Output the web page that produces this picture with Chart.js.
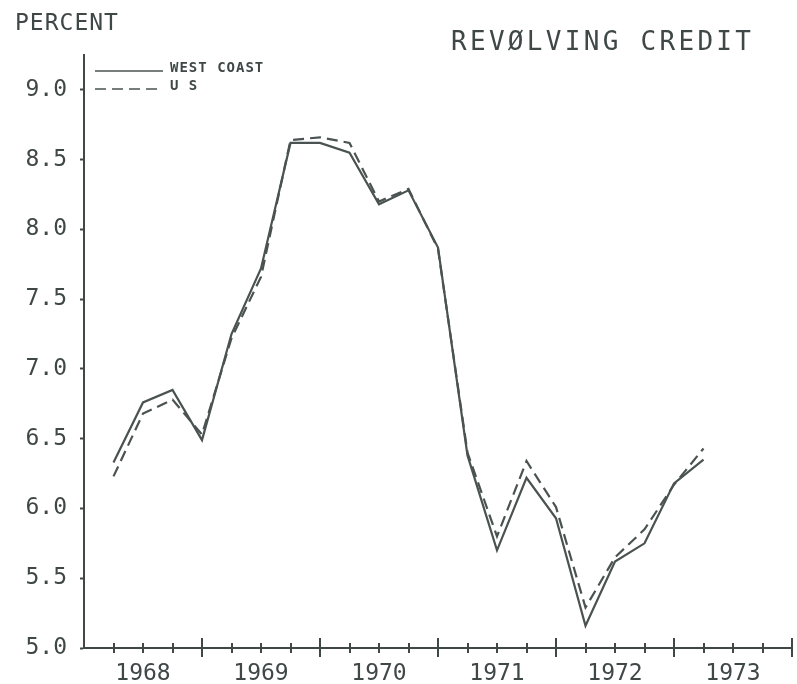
<!DOCTYPE html>
<html>
<head>
<meta charset="utf-8">
<script src="https://cdn.jsdelivr.net/npm/chart.js@4.4.1/dist/chart.umd.min.js"></script>
<style>
  html, body { margin: 0; padding: 0; background: #fff; }
</style>
</head>
<body>
<canvas id="creditChart" width="797" height="684"></canvas>
<script>
// Revolving credit rates, quarterly 1968 - 1973
const quarters = [
    '1968 Q1', '1968 Q2', '1968 Q3', '1968 Q4',
    '1969 Q1', '1969 Q2', '1969 Q3', '1969 Q4',
    '1970 Q1', '1970 Q2', '1970 Q3', '1970 Q4',
    '1971 Q1', '1971 Q2', '1971 Q3', '1971 Q4',
    '1972 Q1', '1972 Q2', '1972 Q3', '1972 Q4',
    '1973 Q1'
];
const westCoast = [6.33, 6.76, 6.85, 6.49, 7.25, 7.72, 8.62, 8.62, 8.55, 8.18, 8.28, 7.87,
                   6.38, 5.70, 6.22, 5.93, 5.16, 5.62, 5.75, 6.18, 6.35];
const unitedStates = [6.23, 6.68, 6.78, 6.53, 7.22, 7.66, 8.64, 8.66, 8.62, 8.20, 8.29, 7.86,
                      6.40, 5.80, 6.34, 6.01, 5.29, 5.65, 5.85, 6.17, 6.43];
const years = ['1968', '1969', '1970', '1971', '1972', '1973'];
const yTicks = [5.0, 5.5, 6.0, 6.5, 7.0, 7.5, 8.0, 8.5, 9.0];

const INK = '#3f4847';
const LINE = '#4a5351';
const MONO = 'DejaVu Sans Mono';

// each quarter sits on the tick that closes it (quarter 1 of 1968 -> position 1)
function toPoints(values) {
    return values.map((v, i) => ({ x: i + 1, y: v, q: quarters[i] }));
}

// tick marks crossing the x axis, longer at year boundaries
const axisTicks = {
    id: 'axisTicks',
    afterDraw(chart) {
        const ctx = chart.ctx;
        const xs = chart.scales.x;
        const y0 = chart.chartArea.bottom;
        ctx.save();
        ctx.strokeStyle = INK;
        ctx.lineWidth = 2;
        for (let q = 1; q <= years.length * 4; q++) {
            const px = Math.round(xs.getPixelForValue(q));
            const major = q % 4 === 0;
            ctx.beginPath();
            ctx.moveTo(px, y0 - (major ? 10 : 5));
            ctx.lineTo(px, y0 + (major ? 9 : 5));
            ctx.stroke();
        }
        ctx.restore();
    }
};

// title, unit label and the small legend in the top-left corner
const decorations = {
    id: 'decorations',
    afterDraw(chart) {
        const ctx = chart.ctx;
        ctx.save();
        ctx.fillStyle = INK;
        ctx.textBaseline = 'alphabetic';
        ctx.textAlign = 'left';

        ctx.font = '23px "' + MONO + '"';
        ctx.letterSpacing = '1px';
        ctx.fillText('PERCENT', 15, 30);

        ctx.font = '26px "' + MONO + '"';
        ctx.letterSpacing = '3.3px';
        ctx.fillText('REVØLVING CREDIT', 451, 50);

        ctx.font = 'bold 14px "' + MONO + '"';
        ctx.letterSpacing = '1px';
        const rows = [{ y: 71 }, { y: 89 }];
        chart.data.datasets.forEach((ds, i) => {
            const y = rows[i].y;
            ctx.strokeStyle = LINE;
            ctx.lineWidth = 1.6;
            ctx.setLineDash(ds.borderDash || []);
            ctx.beginPath();
            ctx.moveTo(95, y);
            ctx.lineTo(163, y);
            ctx.stroke();
            ctx.setLineDash([]);
            ctx.fillText(ds.label, 170, y + 1);
        });
        ctx.restore();
    }
};

const ctx = document.getElementById('creditChart').getContext('2d');

window.creditChartInstance = new Chart(ctx, {
    type: 'line',
    data: {
        datasets: [{
            label: 'WEST COAST',
            data: toPoints(westCoast),
            borderColor: LINE,
            borderWidth: 2.2,
            pointRadius: 0,
            tension: 0,
            fill: false
        }, {
            label: 'U S',
            data: toPoints(unitedStates),
            borderColor: LINE,
            borderWidth: 2.2,
            borderDash: [11, 6],
            pointRadius: 0,
            tension: 0,
            fill: false
        }]
    },
    options: {
        responsive: false,
        animation: false,
        layout: {
            padding: { top: 55, right: 5, left: 0, bottom: 0 }
        },
        plugins: {
            legend: { display: false },
            title: { display: false },
            tooltip: { enabled: false }
        },
        scales: {
            x: {
                type: 'linear',
                min: 0,
                max: years.length * 4,
                afterBuildTicks: (scale) => {
                    scale.ticks = years.map((y, i) => ({ value: i * 4 + 2 }));
                },
                afterFit: (scale) => { scale.height = 36; },
                ticks: {
                    autoSkip: false,
                    maxRotation: 0,
                    padding: 12,
                    color: INK,
                    font: { family: MONO, size: 23 },
                    callback: (v) => years[(v - 2) / 4]
                },
                grid: { display: false, drawTicks: false },
                border: { display: true, color: INK, width: 2 }
            },
            y: {
                min: 5.0,
                max: 9.25,
                afterBuildTicks: (scale) => {
                    scale.ticks = yTicks.map(v => ({ value: v }));
                },
                afterFit: (scale) => { scale.width = 84; },
                ticks: {
                    padding: 13,
                    color: INK,
                    font: { family: MONO, size: 23 },
                    callback: (v) => v.toFixed(1)
                },
                grid: {
                    drawOnChartArea: false,
                    drawTicks: true,
                    tickLength: 4,
                    tickWidth: 2,
                    tickColor: INK
                },
                border: { display: true, color: INK, width: 2 }
            }
        }
    },
    plugins: [axisTicks, decorations]
});
</script>
</body>
</html>
